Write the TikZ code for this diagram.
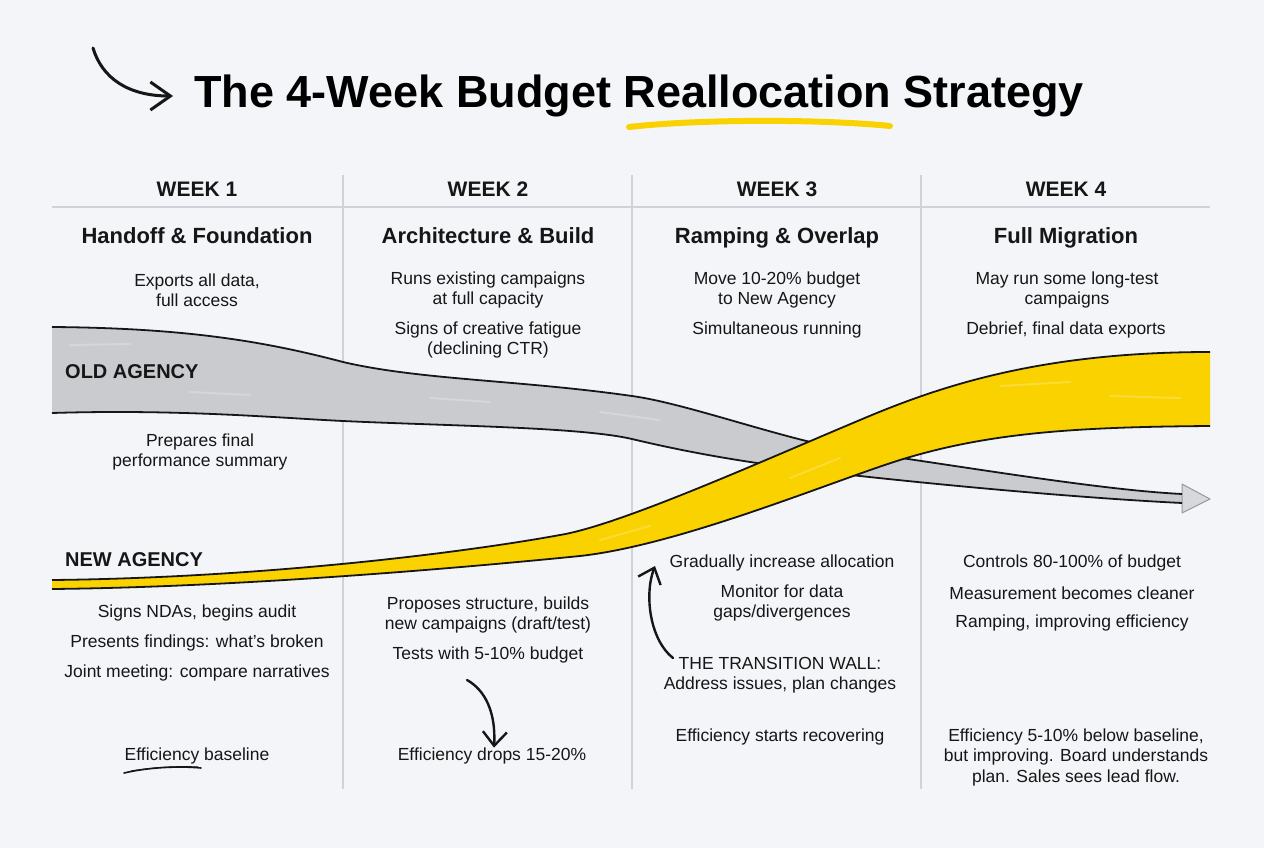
\documentclass[tikz,border=0pt]{standalone}
\usepackage{fontspec}
\setmainfont{Liberation Sans}
\usepackage{xcolor}
\usetikzlibrary{arrows.meta}
\definecolor{paper}{RGB}{243,245,248}
\definecolor{gridline}{RGB}{206,211,217}
\definecolor{ink}{RGB}{22,22,22}
\definecolor{oldgray}{RGB}{201,203,206}
\definecolor{arrowgray}{RGB}{214,216,219}
\definecolor{newyellow}{RGB}{250,210,0}

\begin{document}
\begin{tikzpicture}[x=1pt, y=-1pt,
	week/.style={font=\fontsize{21}{25}\selectfont\bfseries, text=ink},
	phase/.style={font=\fontsize{22}{26}\selectfont\bfseries, text=ink, anchor=base},
	note/.style={font=\fontsize{17.5}{20.5}\selectfont, align=center, text=ink, inner sep=0pt},
	agency/.style={font=\fontsize{20}{24}\selectfont\bfseries, text=ink, anchor=west, inner sep=0pt},
	gridrule/.style={draw=gridline, line width=1.3pt},
	bandline/.style={draw=ink, line width=1.8pt},
	streak/.style={draw=white, opacity=0.22, line width=2pt, line cap=round},
	handarrow/.style={draw=ink, line width=2.4pt, line cap=round, -{Straight Barb[length=14pt, width=24pt]}}]
	\fill[paper] (0,0) rectangle (1264,848);
	
	% title
	\node[font=\fontsize{45}{50}\selectfont\bfseries, text=black, anchor=base, inner sep=0pt] (title) at (639,108) {The 4-Week Budget Reallocation Strategy};
	\coordinate (swoosh) at (93,48);
	\coordinate (swooshtip) at (173,96);
	\draw[handarrow, line width=3pt, -{Straight Barb[length=20pt, width=28pt]}] (swoosh) .. controls (102,78) and (128,96) .. (swooshtip);
	\draw[newyellow, line width=6pt, line cap=round] (629,127) .. controls (700,119) and (820,119) .. (890,126);
	
	% grid
	\draw[gridrule] (52,207) -- (1210,207);
	\foreach \x in {343,632,921}
		\draw[gridrule] (\x,175) -- (\x,789);
	
	\node[week] (w1) at (197,189) {WEEK 1};
	\node[week] (w2) at (488,189) {WEEK 2};
	\node[week] (w3) at (777,189) {WEEK 3};
	\node[week] (w4) at (1066,189) {WEEK 4};
	
	\node[phase] (p1) at (197,243) {Handoff \& Foundation};
	\node[phase] (p2) at (488,243) {Architecture \& Build};
	\node[phase] (p3) at (777,243) {Ramping \& Overlap};
	\node[phase] (p4) at (1066,243) {Full Migration};
	
	% old agency band
	\fill[oldgray] (52,327) .. controls (180,328) and (260,340) .. (343,362) .. controls (420,380) and (520,380) .. (632,396) .. controls (690,404) and (790,442) .. (860,452) .. controls (960,466) and (1100,490) .. (1182,494)
		-- (1182,503) .. controls (1100,499) and (980,489) .. (860,476) .. controls (790,468) and (720,460) .. (632,439) .. controls (580,427) and (450,426) .. (343,421) .. controls (280,418) and (180,409) .. (52,413) -- cycle;
	\draw[fill=arrowgray, draw=gray!80, line width=1pt, line join=round] (1182,484) -- (1210,499) -- (1182,513) -- cycle;
	\draw[bandline] (52,327) .. controls (180,328) and (260,340) .. (343,362) .. controls (420,380) and (520,380) .. (632,396) .. controls (690,404) and (790,442) .. (860,452) .. controls (960,466) and (1100,490) .. (1182,494);
	\draw[bandline] (1182,503) .. controls (1100,499) and (980,489) .. (860,476) .. controls (790,468) and (720,460) .. (632,439) .. controls (580,427) and (450,426) .. (343,421) .. controls (280,418) and (180,409) .. (52,413);
	\draw[streak] (70,345) -- (130,344);
	\draw[streak] (190,392) -- (250,395);
	\draw[streak] (430,398) -- (490,402);
	\draw[streak] (600,412) -- (660,420);
	
	% new agency band
	\fill[newyellow] (52,580) .. controls (250,578) and (450,555) .. (560,535) .. controls (620,525) and (760,462) .. (860,420) .. controls (940,386) and (1040,352) .. (1210,352)
		-- (1210,426) .. controls (1080,427) and (990,432) .. (900,460) .. controls (830,482) and (680,545) .. (580,556) .. controls (480,566) and (250,587) .. (52,589) -- cycle;
	\draw[bandline] (52,580) .. controls (250,578) and (450,555) .. (560,535) .. controls (620,525) and (760,462) .. (860,420) .. controls (940,386) and (1040,352) .. (1210,352);
	\draw[bandline] (1210,426) .. controls (1080,427) and (990,432) .. (900,460) .. controls (830,482) and (680,545) .. (580,556) .. controls (480,566) and (250,587) .. (52,589);
	\draw[streak] (600,540) -- (650,526);
	\draw[streak] (790,478) -- (840,458);
	\draw[streak] (1000,386) -- (1070,382);
	\draw[streak] (1110,396) -- (1180,398);
	
	\node[agency] (old) at (65,372) {OLD AGENCY};
	\node[agency] (new) at (65,560) {NEW AGENCY};
	
	% week 1
	\node[note] (exports) at (197,290) {Exports all data,\\full access};
	\node[note] (summary) at (200,452) {Prepares final\\performance summary};
	\node[note] (ndas) at (197,613) {Signs NDAs, begins audit};
	\node[note] (findings) at (197,643) {Presents findings: what's broken};
	\node[note] (joint) at (197,673) {Joint meeting: compare narratives};
	\node[note] (baseline) at (197,756) {Efficiency baseline};
	\draw[ink, line width=1.6pt, line cap=round] (124,773) .. controls (150,767) and (180,766) .. (201,768);
	\draw[ink, line width=1pt, line cap=round] (131,771) .. controls (155,767) and (180,766) .. (198,767);
	
	% week 2
	\node[note] (runs) at (488,290) {Runs existing campaigns\\at full capacity};
	\node[note] (fatigue) at (488,340) {Signs of creative fatigue\\(declining CTR)};
	\node[note] (proposes) at (488,615) {Proposes structure, builds\\new campaigns (draft/test)};
	\node[note] (tests) at (488,655) {Tests with 5-10\% budget};
	\node[note] (drops) at (492,756) {Efficiency drops 15-20\%};
	\coordinate (dipstart) at (467,680);
	\draw[handarrow] (dipstart) .. controls (485,690) and (496,712) .. (drops.north -| 494,0);
	
	% week 3
	\node[note] (move) at (777,290) {Move 10-20\% budget\\to New Agency};
	\node[note] (simul) at (777,330) {Simultaneous running};
	\node[note] (gradual) at (782,563) {Gradually increase allocation};
	\node[note] (monitor) at (782,603) {Monitor for data\\gaps/divergences};
	\node[note] (wall) at (780,675) {THE TRANSITION WALL:\\Address issues, plan changes};
	\node[note] (recover) at (780,737) {Efficiency starts recovering};
	\coordinate (walltail) at (673,658);
	\coordinate (walltip) at (655,566);
	\draw[handarrow] (walltail) .. controls (650,640) and (644,595) .. (walltip);
	
	% week 4
	\node[note] (longtest) at (1067,290) {May run some long-test\\campaigns};
	\node[note] (debrief) at (1066,330) {Debrief, final data exports};
	\node[note] (controls) at (1072,563) {Controls 80-100\% of budget};
	\node[note] (measure) at (1072,593) {Measurement becomes cleaner};
	\node[note] (ramping) at (1072,623) {Ramping, improving efficiency};
	\node[note] (below) at (1076,757) {Efficiency 5-10\% below baseline,\\but improving. Board understands\\plan. Sales sees lead flow.};
	
\end{tikzpicture}
\end{document}
